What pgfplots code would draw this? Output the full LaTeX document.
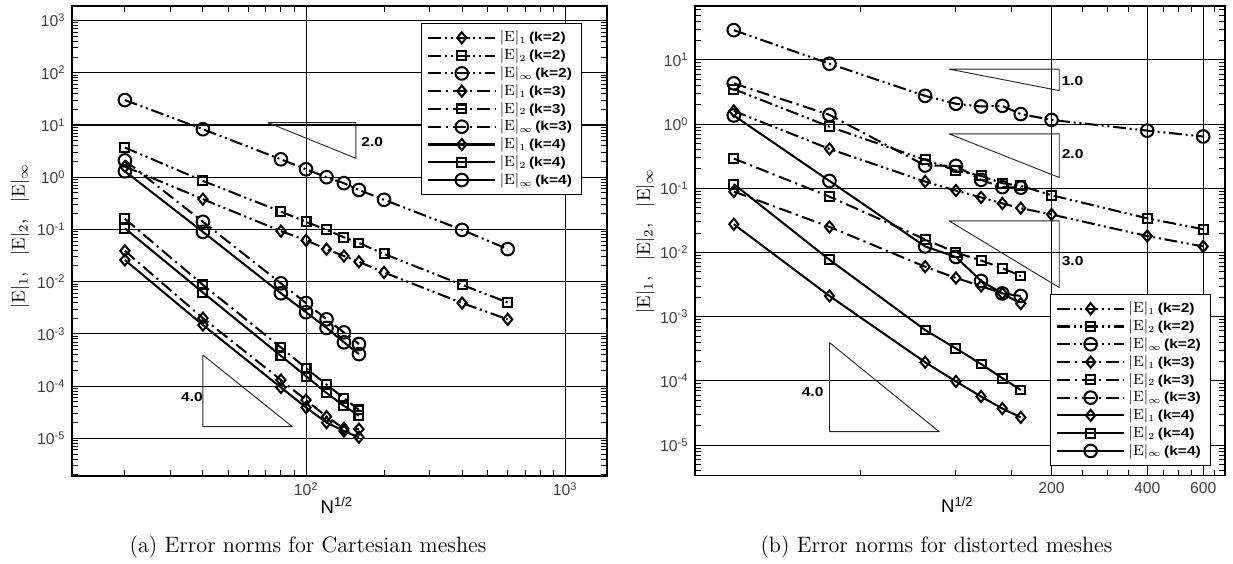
\documentclass[border=0pt]{standalone}
\usepackage{fontspec}
\usepackage{pgfplots}
\pgfplotsset{compat=1.18}
\newfontfamily\hv{Liberation Sans}
\newfontfamily\kfont[FakeStretch=1.2]{Liberation Sans}

% tick label 10^n in the sans text font
\newcommand\tp[1]{10\textsuperscript{#1}}
% legend entry: norm and polynomial degree
\newcommand\lE[2]{$|\mathrm{E}|_{\scriptscriptstyle #1}$\,{\kfont\bfseries\fontsize{7}{8}\selectfont(k=#2)}}
\newcommand\slope[1]{{\kfont\bfseries\fontsize{7}{8}\selectfont #1}}

\pgfplotsset{
  errax/.style={
    scale only axis,
    axis line style={line width=0.8pt},
    grid=major, major grid style={black, line width=0.55pt},
    every tick/.style={black, line width=0.5pt},
    major tick length=3.3pt, minor tick length=3pt,
    tick align=inside,
    tick label style={font=\hv\fontsize{8.5}{9}\selectfont, text=black!75},
    xlabel={\hv\fontsize{10}{12}\selectfont N\textsuperscript{1/2}},
    ylabel={\fontsize{10}{12}\selectfont$|\mathrm{E}|_{1}$,\hspace{9pt}$|\mathrm{E}|_{2}$,\hspace{9pt}$|\mathrm{E}|_{\infty}$},
    xlabel style={at={(axis description cs:0.495,-0.062)}, anchor=center},
    legend cell align=left,
    legend style={draw=black, line width=0.6pt, fill=white,
      font=\fontsize{8}{9}\selectfont, inner xsep=3pt, inner ysep=2pt, row sep=-1.9pt,
      /tikz/column 2/.style={column sep=5pt}},
    legend image code/.code={\draw[mark repeat=2,mark phase=2]
      plot coordinates {(0pt,0pt)(18pt,0pt)(36pt,0pt)};},
  },
  k2/.style={black, line width=1.1pt,
    dash pattern=on 7pt off 2pt on 1.1pt off 2pt on 1.1pt off 2pt,
    mark options={solid, line width=1.1pt}},
  k3/.style={black, line width=1.1pt,
    dash pattern=on 7pt off 2.5pt on 1.1pt off 2.5pt,
    mark options={solid, line width=1.1pt}},
  k4/.style={black, line width=1.1pt, solid,
    mark options={solid, line width=1.1pt}},
  m1/.style={mark=diamond, mark size=3pt, every mark/.append style={xscale=1.1}},
  m2/.style={mark=square, mark size=2.4pt},
  mI/.style={mark=o, mark size=3.4pt},
  tri/.style={black!85, line width=0.5pt, forget plot, no marks, solid},
}

\begin{document}
\begin{tikzpicture}
\path[use as bounding box] (0pt,0pt) rectangle (665.82pt,-304.56pt);

% ---------------- Cartesian meshes ----------------
\begin{loglogaxis}[errax,
  at={(38.88pt,-257.04pt)}, anchor=south west,
  width=288.9pt, height=253.8pt,
  xmin=12.5, xmax=1450, ymin=1.9e-6, ymax=1900,
  xtick={100,1000}, xticklabels={\tp{2},\tp{3}},
  minor xtick={20,30,40,50,60,70,80,90,200,300,400,500,600,700,800,900},
  ytick={1e-5,1e-4,1e-3,1e-2,1e-1,1,10,100,1000},
  yticklabels={\tp{-5},\tp{-4},\tp{-3},\tp{-2},\tp{-1},\tp{0},\tp{1},\tp{2},\tp{3}},
  minor ytick={2e-6,3e-6,4e-6,5e-6,6e-6,7e-6,8e-6,9e-6,
    2e-5,3e-5,4e-5,5e-5,6e-5,7e-5,8e-5,9e-5,
    2e-4,3e-4,4e-4,5e-4,6e-4,7e-4,8e-4,9e-4,
    2e-3,3e-3,4e-3,5e-3,6e-3,7e-3,8e-3,9e-3,
    0.02,0.03,0.04,0.05,0.06,0.07,0.08,0.09,
    0.2,0.3,0.4,0.5,0.6,0.7,0.8,0.9,
    2,3,4,5,6,7,8,9,20,30,40,50,60,70,80,90,
    200,300,400,500,600,700,800,900},
  ylabel style={at={(axis description cs:-0.097,0.51)}, anchor=center},
  legend style={at={(0.953,0.964)}, anchor=north east},
]
\addplot[k2,m1] coordinates {(20,1.6)(40,0.38)(80,0.093)(100,0.062)(120,0.042)(140,0.031)(160,0.024)(200,0.015)(400,0.0039)(600,0.0019)};
\addplot[k2,m2] coordinates {(20,3.7)(40,0.85)(80,0.22)(100,0.14)(120,0.098)(140,0.071)(160,0.055)(200,0.034)(400,0.0087)(600,0.004)};
\addplot[k2,mI] coordinates {(20,30)(40,8.3)(80,2.2)(100,1.42)(120,1.0)(140,0.77)(160,0.57)(200,0.37)(400,0.098)(600,0.042)};
\addplot[k3,m1] coordinates {(20,0.039)(40,0.0020)(80,1.31e-4)(100,5.4e-5)(120,2.6e-5)(140,1.55e-5)(160,1.5e-5)};
\addplot[k3,m2] coordinates {(20,0.16)(40,0.0087)(80,5.5e-4)(100,2.2e-4)(120,1.07e-4)(140,5.9e-5)(160,3.5e-5)};
\addplot[k3,mI] coordinates {(20,2.1)(40,0.14)(80,0.0093)(100,0.0039)(120,0.0019)(140,0.00107)(160,0.00064)};
\addplot[k4,m1] coordinates {(20,0.026)(40,0.00148)(80,9.4e-5)(100,3.9e-5)(120,2.0e-5)(140,1.38e-5)(160,1.05e-5)};
\addplot[k4,m2] coordinates {(20,0.105)(40,0.0062)(80,3.8e-4)(100,1.55e-4)(120,7.4e-5)(140,4.2e-5)(160,2.7e-5)};
\addplot[k4,mI] coordinates {(20,1.3)(40,0.09)(80,0.006)(100,0.0026)(120,0.0013)(140,0.00069)(160,0.00041)};
\legend{\lE{1}{2},\lE{2}{2},\lE{\infty}{2},\lE{1}{3},\lE{2}{3},\lE{\infty}{3},\lE{1}{4},\lE{2}{4},\lE{\infty}{4}}
% slope triangles
\addplot[tri] coordinates {(71.2,11.1)(155.6,11.1)(155.6,2.31)(71.2,11.1)};
\addplot[tri] coordinates {(40,3.94e-4)(40,1.67e-5)(88.5,1.67e-5)(40,3.94e-4)};
\node at (axis cs:180,4.8) {\slope{2.0}};
\node at (axis cs:36.3,6.3e-5) {\slope{4.0}};
\end{loglogaxis}

% ---------------- distorted meshes ----------------
\begin{loglogaxis}[errax,
  at={(375.3pt,-256.88pt)}, anchor=south west,
  width=286.2pt, height=253.64pt,
  xmin=15.1, xmax=703, ymin=3.33e-6, ymax=69,
  xtick={200,400,600}, xticklabels={200,400,600},
  minor xtick={50,100,150,250,300,350,450,500,550,650,700},
  ytick={1e-5,1e-4,1e-3,1e-2,1e-1,1,10},
  yticklabels={\tp{-5},\tp{-4},\tp{-3},\tp{-2},\tp{-1},\tp{0},\tp{1}},
  minor ytick={4e-6,5e-6,6e-6,7e-6,8e-6,9e-6,
    2e-5,3e-5,4e-5,5e-5,6e-5,7e-5,8e-5,9e-5,
    2e-4,3e-4,4e-4,5e-4,6e-4,7e-4,8e-4,9e-4,
    2e-3,3e-3,4e-3,5e-3,6e-3,7e-3,8e-3,9e-3,
    0.02,0.03,0.04,0.05,0.06,0.07,0.08,0.09,
    0.2,0.3,0.4,0.5,0.6,0.7,0.8,0.9,
    2,3,4,5,6,7,8,9,20,30,40,50,60},
  ylabel style={at={(axis description cs:-0.094,0.5)}, anchor=center},
  legend style={at={(0.973,0.021)}, anchor=south east},
]
\addplot[k2,m1] coordinates {(20,1.6)(40,0.41)(80,0.127)(100,0.092)(120,0.072)(140,0.058)(160,0.049)(200,0.039)(400,0.018)(600,0.0124)};
\addplot[k2,m2] coordinates {(20,3.5)(40,0.91)(80,0.277)(100,0.189)(120,0.156)(140,0.12)(160,0.109)(200,0.078)(400,0.034)(600,0.023)};
\addplot[k2,mI] coordinates {(20,29)(40,8.7)(80,2.75)(100,2.07)(120,1.88)(140,1.92)(160,1.43)(200,1.16)(400,0.79)(600,0.64)};
\addplot[k3,m1] coordinates {(20,0.089)(40,0.025)(80,0.006)(100,0.0040)(120,0.0030)(140,0.0023)(160,0.0016)};
\addplot[k3,m2] coordinates {(20,0.29)(40,0.074)(80,0.016)(100,0.0100)(120,0.0075)(140,0.0057)(160,0.0043)};
\addplot[k3,mI] coordinates {(20,4.3)(40,1.39)(80,0.226)(100,0.223)(120,0.135)(140,0.104)(160,0.102)};
\addplot[k4,m1] coordinates {(20,0.0275)(40,0.0021)(80,1.95e-4)(100,9.8e-5)(120,5.7e-5)(140,3.7e-5)(160,2.7e-5)};
\addplot[k4,m2] coordinates {(20,0.116)(40,0.0077)(80,6.2e-4)(100,3.2e-4)(120,1.83e-4)(140,1.1e-4)(160,7.2e-5)};
\addplot[k4,mI] coordinates {(20,1.36)(40,0.13)(80,0.0124)(100,0.0085)(120,0.0036)(140,0.0023)(160,0.0021)};
\legend{\lE{1}{2},\lE{2}{2},\lE{\infty}{2},\lE{1}{3},\lE{2}{3},\lE{\infty}{3},\lE{1}{4},\lE{2}{4},\lE{\infty}{4}}
% slope triangles
\addplot[tri] coordinates {(95.2,7.17)(211.4,7.17)(211.4,3.32)(95.2,7.17)};
\addplot[tri] coordinates {(95.2,0.703)(211.4,0.703)(211.4,0.147)(95.2,0.703)};
\addplot[tri] coordinates {(95.2,0.031)(211.4,0.031)(211.4,0.00284)(95.2,0.031)};
\addplot[tri] coordinates {(40,3.95e-4)(40,1.62e-5)(88.5,1.62e-5)(40,3.95e-4)};
\node at (axis cs:232.6,4.71) {\slope{1.0}};
\node at (axis cs:233,0.34) {\slope{2.0}};
\node at (axis cs:233,0.0074) {\slope{3.0}};
\node at (axis cs:35.4,6.8e-5) {\slope{4.0}};
\end{loglogaxis}

% captions
\node[anchor=base, font=\fontsize{12}{14}\selectfont] at (166.3pt,-298.6pt) {(a) Error norms for Cartesian meshes};
\node[anchor=base, font=\fontsize{12}{14}\selectfont] at (505.7pt,-298.6pt) {(b) Error norms for distorted meshes};
\end{tikzpicture}
\end{document}
